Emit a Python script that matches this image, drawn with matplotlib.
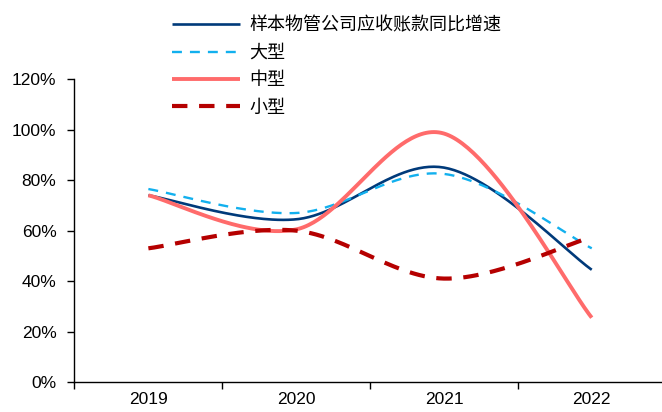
import numpy as np
import matplotlib
matplotlib.use('Agg')
import matplotlib.pyplot as plt
from matplotlib.ticker import FixedLocator, PercentFormatter, NullFormatter

plt.rcParams['font.family'] = ['Liberation Sans', 'Noto Sans CJK SC', 'DejaVu Sans']

YEARS = ['2019', '2020', '2021', '2022']
TOTAL = [74.0, 64.5, 85.0, 44.5]
LARGE = [76.5, 67.0, 82.5, 53.0]
MEDIUM = [74.0, 60.5, 98.5, 25.5]
SMALL = [53.0, 60.0, 41.0, 57.5]

LABELS = ['样本物管公司应收账款同比增速', '大型', '中型', '小型']


def smooth(xs, ys, n=60):
    # Bezier smoothing through every point (Catmull-Rom style control points)
    pts = np.column_stack([xs, ys]).astype(float)
    ext = np.vstack([pts[0], pts, pts[-1]])
    out = []
    t = np.linspace(0, 1, n)[:, None]
    for i in range(len(pts) - 1):
        p0, p3 = ext[i + 1], ext[i + 2]
        c1 = p0 + (ext[i + 2] - ext[i]) / 6
        c2 = p3 - (ext[i + 3] - ext[i + 1]) / 6
        seg = ((1 - t) ** 3) * p0 + 3 * ((1 - t) ** 2) * t * c1 \
            + 3 * (1 - t) * t ** 2 * c2 + t ** 3 * p3
        out.append(seg if i == 0 else seg[1:])
    out = np.vstack(out)
    return out[:, 0], out[:, 1]


fig = plt.figure(figsize=(6.62, 4.12), dpi=100)
ax = fig.add_axes([0.1125, 0.0728, 0.893, 0.7347])

x = np.arange(len(YEARS))
styles = [
    dict(color='#003A7A', lw=1.9, ls='-'),
    dict(color='#12B0EE', lw=1.7, ls=(0, (4.2, 3.4))),
    dict(color='#FF6B6B', lw=2.8, ls='-'),
    dict(color='#B50000', lw=3.0, ls=(0, (3.7, 2.8))),
]
series = [TOTAL, LARGE, MEDIUM, SMALL]
for vals, lab, st in zip(series, LABELS, styles):
    sx, sy = smooth(x, vals)
    ax.plot(sx, sy, label=lab, solid_capstyle='butt', dash_capstyle='butt', **st)

ax.set_xlim(-0.5, 3.5)
ax.set_ylim(0, 120)
ax.yaxis.set_major_locator(FixedLocator(np.arange(0, 121, 20)))
ax.yaxis.set_major_formatter(PercentFormatter(decimals=0))
ax.xaxis.set_major_locator(FixedLocator(np.arange(-0.5, 3.6, 1)))
ax.xaxis.set_major_formatter(NullFormatter())
ax.xaxis.set_minor_locator(FixedLocator(x))
ax.set_xticklabels(YEARS, minor=True)
ax.tick_params(axis='x', which='minor', length=0, pad=7, labelsize=12.5)
ax.tick_params(axis='x', which='major', length=5, width=1, direction='out')
ax.tick_params(axis='y', length=5, width=1, direction='out', labelsize=12.5, pad=8)

for s in ['top', 'right']:
    ax.spines[s].set_visible(False)
for s in ['left', 'bottom']:
    ax.spines[s].set_linewidth(1)
    ax.spines[s].set_color('black')

leg = fig.legend(loc='upper left', bbox_to_anchor=(0.260, 0.960), frameon=False,
                 borderpad=0, borderaxespad=0, handlelength=3.78, handletextpad=0.5,
                 labelspacing=0.52, prop={'family': ['Noto Sans CJK SC'], 'size': 13})

fig.savefig('out.png', dpi=100)
